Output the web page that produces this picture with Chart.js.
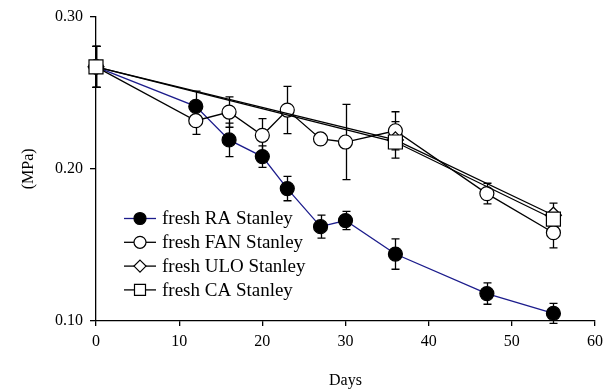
<!DOCTYPE html>
<html>
<head>
<meta charset="utf-8">
<script src="https://cdn.jsdelivr.net/npm/chart.js@4.4.1/dist/chart.umd.min.js"></script>
<style>
  html, body { margin: 0; padding: 0; background: #fff; }
  #wrap { width: 613px; height: 390px; position: relative; }
</style>
</head>
<body>
<div id="wrap"><canvas id="c"></canvas></div>
<script>
// Firmness (MPa) of Stanley plums over storage days, four storage regimes
const seriesNames = ['fresh RA Stanley', 'fresh FAN Stanley', 'fresh ULO Stanley', 'fresh CA Stanley'];

const raDays = [0, 12, 16, 20, 23, 27, 30, 36, 47, 55];
const raVals = [0.267, 0.241, 0.219, 0.208, 0.187, 0.162, 0.166, 0.144, 0.118, 0.105];
const raErr  = [0.0135, 0.010, 0.011, 0.007, 0.008, 0.0075, 0.006, 0.010, 0.007, 0.0066];

const fanDays = [0, 12, 16, 20, 23, 27, 30, 36, 47, 55];
const fanVals = [0.267, 0.2316, 0.2373, 0.222, 0.2386, 0.2196, 0.2176, 0.225, 0.1837, 0.158];
const fanErr  = [0.0135, 0.009, 0.010, 0.011, 0.0155, 0.003, 0.0247, 0.0125, 0.0068, 0.010];

const uloDays = [0, 36, 55];
const uloVals = [0.267, 0.219, 0.1695];
const uloErr  = [0.0135, 0.012, 0.008];

const caDays = [0, 36, 55];
const caVals = [0.267, 0.2176, 0.167];
const caErr  = [0.0135, 0.004, 0.005];

const xTicks = [0, 10, 20, 30, 40, 50, 60];
const yTicks = [0.10, 0.20, 0.30];

const SERIF = "'Liberation Serif', 'Times New Roman', serif";

function toPoints(days, vals) {
  return days.map((d, i) => ({ x: d, y: vals[i] }));
}

const errSets = [raErr, fanErr, uloErr, caErr];

// vertical error bars with caps, drawn beneath the markers
const errorBars = {
  id: 'errorBars',
  beforeDatasetsDraw(chart) {
    const ctx = chart.ctx;
    const xs = chart.scales.x, ys = chart.scales.y;
    ctx.save();
    ctx.strokeStyle = '#000';
    ctx.lineWidth = 1.3;
    chart.data.datasets.forEach((ds, i) => {
      const errs = errSets[i];
      ds.data.forEach((p, j) => {
        const e = errs[j];
        if (!e) return;
        const px = Math.round(xs.getPixelForValue(p.x)) + 0.5;
        const yt = ys.getPixelForValue(p.y + e);
        const yb = ys.getPixelForValue(p.y - e);
        ctx.beginPath();
        ctx.moveTo(px, yt); ctx.lineTo(px, yb);
        ctx.moveTo(px - 4, yt); ctx.lineTo(px + 4, yt);
        ctx.moveTo(px - 4, yb); ctx.lineTo(px + 4, yb);
        ctx.stroke();
      });
    });
    ctx.restore();
  }
};

function drawMarker(ctx, style, x, y, r, fill, stroke) {
  ctx.beginPath();
  if (style === 'circle') {
    ctx.arc(x, y, r, 0, Math.PI * 2);
  } else if (style === 'rect') {
    ctx.rect(x - r, y - r, 2 * r, 2 * r);
  } else if (style === 'rectRot') {
    ctx.moveTo(x, y - r); ctx.lineTo(x + r, y); ctx.lineTo(x, y + r); ctx.lineTo(x - r, y); ctx.closePath();
  }
  ctx.fillStyle = fill;
  ctx.fill();
  ctx.lineWidth = 1.2;
  ctx.strokeStyle = stroke;
  ctx.stroke();
}

// legend inside the plot, lower left
const insideLegend = {
  id: 'insideLegend',
  afterDraw(chart) {
    const ctx = chart.ctx;
    const legendSizes = [6, 6, 6, 5.5];
    ctx.save();
    chart.data.datasets.forEach((ds, i) => {
      const y = 218.5 + i * 23.8;
      ctx.beginPath();
      ctx.strokeStyle = ds.borderColor;
      ctx.lineWidth = 1.3;
      ctx.moveTo(124, y); ctx.lineTo(156, y);
      ctx.stroke();
      drawMarker(ctx, ds.pointStyle, 140, y, legendSizes[i], ds.pointBackgroundColor, '#000');
      ctx.fillStyle = '#000';
      ctx.font = '19px ' + SERIF;
      ctx.textBaseline = 'middle';
      ctx.textAlign = 'left';
      ctx.fillText(ds.label, 162, y + 1);
    });
    ctx.restore();
  }
};

const datasets = [
  {
    label: seriesNames[0], data: toPoints(raDays, raVals),
    borderColor: '#1c1c8c', pointStyle: 'circle', pointRadius: 7,
    pointBackgroundColor: '#000', pointBorderColor: '#000', order: 3
  },
  {
    label: seriesNames[1], data: toPoints(fanDays, fanVals),
    borderColor: '#000', pointStyle: 'circle', pointRadius: 7,
    pointBackgroundColor: '#fff', pointBorderColor: '#000', order: 2
  },
  {
    label: seriesNames[2], data: toPoints(uloDays, uloVals),
    borderColor: '#000', pointStyle: 'rectRot', pointRadius: 8,
    pointBackgroundColor: '#fff', pointBorderColor: '#000', order: 1
  },
  {
    label: seriesNames[3], data: toPoints(caDays, caVals),
    borderColor: '#000', pointStyle: 'rect', pointRadius: 9.9,
    pointBackgroundColor: '#fff', pointBorderColor: '#000', order: 0
  }
].map(d => Object.assign({
  showLine: true, borderWidth: 1.3, pointBorderWidth: 1.2, tension: 0, fill: false, clip: false
}, d));

new Chart(document.getElementById('c'), {
  type: 'scatter',
  data: { datasets },
  options: {
    responsive: true,
    maintainAspectRatio: false,
    devicePixelRatio: 1,
    animation: false,
    layout: { padding: { left: 0, top: 15, right: 18, bottom: 0 } },
    plugins: { legend: { display: false }, tooltip: { enabled: false } },
    scales: {
      x: {
        type: 'linear', min: 0, max: 60,
        afterFit(s) { s.height = 69; },
        afterBuildTicks(s) { s.ticks = xTicks.map(v => ({ value: v })); },
        border: { display: true, color: '#000', width: 1.3 },
        grid: { display: true, drawOnChartArea: false, drawTicks: true, tickLength: 5, color: '#000', lineWidth: 1.3 },
        ticks: { color: '#000', font: { family: SERIF, size: 16 }, padding: 6, maxRotation: 0 },
        title: { display: true, text: 'Days', color: '#000', font: { family: SERIF, size: 16 }, padding: { top: 4, bottom: 0 } }
      },
      y: {
        type: 'linear', min: 0.1, max: 0.3,
        afterFit(s) { s.width = 96; },
        afterBuildTicks(s) { s.ticks = yTicks.map(v => ({ value: v })); },
        border: { display: true, color: '#000', width: 1.3 },
        grid: { display: true, drawOnChartArea: false, drawTicks: true, tickLength: 6, color: '#000', lineWidth: 1.3 },
        ticks: { color: '#000', font: { family: SERIF, size: 16 }, padding: 7, callback: v => v.toFixed(2) },
        title: { display: true, text: '(MPa)', color: '#000', font: { family: SERIF, size: 16 }, padding: { top: 19, bottom: 0 } }
      }
    }
  },
  plugins: [errorBars, insideLegend]
});
</script>
</body>
</html>
